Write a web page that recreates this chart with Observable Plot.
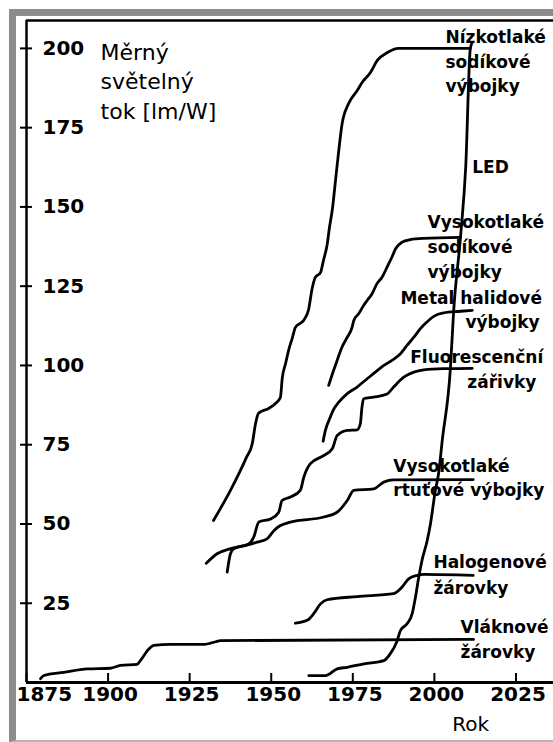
<!DOCTYPE html>
<html><head><meta charset="utf-8">
<script src="https://cdn.jsdelivr.net/npm/d3@7"></script>
<script src="https://cdn.jsdelivr.net/npm/@observablehq/plot@0.6"></script>
<style>
html,body{margin:0;padding:0;background:#fff;}
#wrap{position:relative;width:553px;height:742px;overflow:hidden;}
#frame{position:absolute;left:9px;top:9px;width:600px;height:733px;border-left:7px solid #8c8c8c;border-top:7px solid #8c8c8c;border-bottom:2px solid #b5b5b5;box-sizing:border-box;}
#wrap svg{position:absolute;left:0;top:0;}
</style></head><body><div id="wrap"><div id="frame"></div></div>
<script>
// ---- data ----
const xTicks = [1875, 1900, 1925, 1950, 1975, 2000, 2025];
const yTicks = [25, 50, 75, 100, 125, 150, 175, 200];

const lpsYears  = [1932.3,1937.5,1942.4,1944.2,1945.2,1946.1,1949.1,1951.3,1952.8,1953.4,1954.4,1955.3,1956.5,1957.4,1959.9,1961.4,1962.6,1963.5,1965.1,1966.0,1967.2,1967.8,1968.8,1969.7,1970.6,1971.8,1972.1,1973.7,1976.4,1977.9,1980.4,1982.5,1985.6,1989.0,2011.0];
const lpsValues = [51.1,60.6,71.0,75.4,81.7,84.9,86.4,88.0,89.9,96.2,100.6,104.7,108.8,112.0,114.2,117.4,124.6,127.8,129.3,133.1,138.5,143.2,149.8,158.4,166.9,176.7,178.2,182.6,186.8,189.3,192.4,196.2,198.7,200.0,200.0];

const hpsYears  = [1967.6,1969.1,1970.2,1971.7,1973.3,1974.8,1975.3,1976.8,1978.3,1979.4,1980.9,1982.4,1984.0,1985.5,1987.0,1988.1,1990.1,1992.6,1996.7,2008.0];
const hpsValues = [93.7,98.4,101.6,105.8,108.9,112.1,114.2,116.3,118.9,120.5,122.6,125.8,127.9,131.0,134.2,136.8,138.9,139.7,140.1,140.4];

const mhYears  = [1965.9,1966.6,1968.1,1969.2,1970.7,1973.3,1976.3,1979.4,1981.9,1984.5,1987.0,1989.6,1991.6,1993.7,1995.7,1997.7,1999.8,2002.8,2008.0,2011.6];
const mhValues = [76.1,79.5,83.7,86.3,88.4,91.1,93.2,95.8,97.9,100.0,101.6,103.7,106.3,108.9,111.6,113.7,115.5,116.6,117.1,117.4];

const flYears  = [1936.5,1937.5,1938.5,1943.1,1944.6,1946.2,1949.8,1952.3,1953.3,1955.9,1958.9,1960.0,1962.0,1966.1,1968.7,1970.2,1973.3,1976.3,1977.3,1977.8,1978.3,1981.4,1985.5,1987.5,1990.6,1993.7,1996.7,2002.8,2011.6];
const flValues = [34.8,40.6,42.2,43.7,45.8,50.6,51.6,53.7,57.4,58.5,60.6,64.8,69.0,71.6,73.7,77.9,79.5,79.7,81.6,86.8,89.5,90.0,91.0,93.2,96.3,97.9,98.6,99.0,99.1];

const hgYears  = [1930.1,1933.4,1937.5,1943.1,1945.7,1948.7,1950.8,1952.8,1955.9,1966.1,1970.2,1973.3,1975.3,1981.4,1984.5,1987.5,2011.9];
const hgValues = [37.6,40.6,42.2,43.5,44.3,45.3,47.9,49.5,50.6,52.2,53.7,57.4,60.6,61.1,63.2,63.9,64.0];

const halYears  = [1957.4,1961.0,1963.0,1965.1,1967.1,1976.3,1987.5,1990.1,1992.1,1994.7,1996.7,2011.9];
const halValues = [18.7,19.6,21.7,24.8,26.1,27.1,28.0,30.1,32.7,33.8,34.1,33.8];

const incYears  = [1879.3,1880.3,1886.4,1893.6,1900.7,1903.8,1908.9,1909.9,1912.5,1914.0,1919.1,1929.3,1931.4,1933.4,1934.4,2012.0];
const incValues = [1.2,2.2,3.2,4.3,4.5,5.4,5.7,6.9,10.6,11.7,12.0,12.0,12.4,13.0,13.2,13.6];

const ledYears  = [1961.5,1966.6,1970.2,1973.3,1978.4,1984.5,1986.5,1988.6,1989.6,1991.6,1993.2,1994.2,1995.2,1996.2,1997.8,1998.8,2000.3,2001.3,2002.4,2004.9,2005.9,2008.0,2009.6,2011.0,2011.6];
const ledValues = [2.2,2.2,4.3,4.8,5.9,6.9,9.1,13.2,16.4,18.5,21.7,26.9,33.2,38.5,44.8,50.1,60.6,66.0,76.3,99.0,117.1,140.5,162.6,199.9,201.9];

const labelTexts  = ["Nízkotlaké","sodíkové","výbojky","LED","Vysokotlaké","sodíkové","výbojky","Metal halidové","výbojky","Fluorescenční","zářivky","Vysokotlaké","rtuťové výbojky","Halogenové","žárovky","Vláknové","žárovky"];
const labelYears  = [2003.4,2003.4,2003.4,2011.6,1997.9,1997.9,1997.9,1989.6,2009.5,1992.6,2010.1,1987.4,1987.4,1999.7,1999.7,2008.0,2008.0];
const labelValues = [203.5,195.6,188.0,162.5,145.1,137.2,129.3,121.1,113.6,102.5,94.6,68.1,60.6,37.9,29.7,17.4,9.5];

const yTitleLines  = ["Měrný","světelný","tok [lm/W]"];
const yTitleYears  = [1897.7,1897.7,1897.7];
const yTitleValues = [198.7,189.3,180.1];
const xTitle = "Rok";
const xTitleYear = 2005.5;

// ---- build table ----
const seriesDefs = [
  ["Nízkotlaké sodíkové výbojky", lpsYears, lpsValues],
  ["Vysokotlaké sodíkové výbojky", hpsYears, hpsValues],
  ["Metal halidové výbojky", mhYears, mhValues],
  ["Fluorescenční zářivky", flYears, flValues],
  ["Vysokotlaké rtuťové výbojky", hgYears, hgValues],
  ["Halogenové žárovky", halYears, halValues],
  ["Vláknové žárovky", incYears, incValues],
  ["LED", ledYears, ledValues]
];
const rows = seriesDefs.flatMap(([name, ys, vs]) => ys.map((y, i) => ({series: name, year: y, value: vs[i]})));
const labels = labelTexts.map((t, i) => ({text: t, year: labelYears[i], value: labelValues[i]}));
const yTitle = yTitleLines.map((t, i) => ({text: t, year: yTitleYears[i], value: yTitleValues[i]}));

const W = 553, H = 742, mL = 26, mR = 0, mT = 20, mB = 60;
const xDomain = [1875, 2036.5];
const yDomain = [0, 208.8];
const pxPerYear = (W - mL - mR) / (xDomain[1] - xDomain[0]);
const pxPerUnit = (H - mT - mB) / (yDomain[1] - yDomain[0]);
const yTickHalf = 6 / pxPerYear;   // tick length in pixels -> data units
const xTickLen = 9 / pxPerUnit;
const font = "DejaVu Sans";
const fmt = d => String(d);

const chart = Plot.plot({
  width: W, height: H,
  marginLeft: mL, marginRight: mR, marginTop: mT, marginBottom: mB,
  x: {domain: xDomain, axis: null},
  y: {domain: yDomain, axis: null},
  style: {background: "transparent", fontFamily: font, color: "black", overflow: "visible"},
  marks: [
    Plot.ruleY([yDomain[1]], {stroke: "black", strokeWidth: 2.5}),
    Plot.ruleX([xDomain[0]], {stroke: "black", strokeWidth: 2.5}),
    Plot.ruleY([0], {stroke: "black", strokeWidth: 3}),
    Plot.ruleY(yTicks, {y: d => d, x1: xDomain[0] - yTickHalf, x2: xDomain[0] + yTickHalf, stroke: "black", strokeWidth: 2}),
    Plot.ruleX(xTicks, {x: d => d, y1: 0, y2: xTickLen, stroke: "black", strokeWidth: 2}),
    Plot.text(yTicks, {y: d => d, text: fmt, frameAnchor: "left", dx: 16, textAnchor: "start", fontSize: 20, fontWeight: "bold", fill: "black"}),
    Plot.text(xTicks.slice(0, 1), {x: d => d, text: fmt, frameAnchor: "bottom", dy: 18, dx: -10, textAnchor: "start", fontSize: 20, fontWeight: "bold", fill: "black"}),
    Plot.text(xTicks.slice(1), {x: d => d, text: fmt, frameAnchor: "bottom", dy: 18, dx: 2, fontSize: 20, fontWeight: "bold", fill: "black"}),
    Plot.line(rows, {x: "year", y: "value", z: "series", stroke: "black", strokeWidth: 2.8, curve: "monotone-x"}),
    Plot.text(labels, {x: "year", y: "value", text: "text", textAnchor: "start", fontSize: 17, fontWeight: "bold", fill: "black"}),
    Plot.text(yTitle, {x: "year", y: "value", text: "text", textAnchor: "start", fontSize: 22, fill: "black"}),
    Plot.text([xTitle], {x: [xTitleYear], frameAnchor: "bottom", dy: 48, textAnchor: "start", fontSize: 20, fill: "black"})
  ]
});
document.getElementById("wrap").appendChild(chart);
</script>
</body></html>
